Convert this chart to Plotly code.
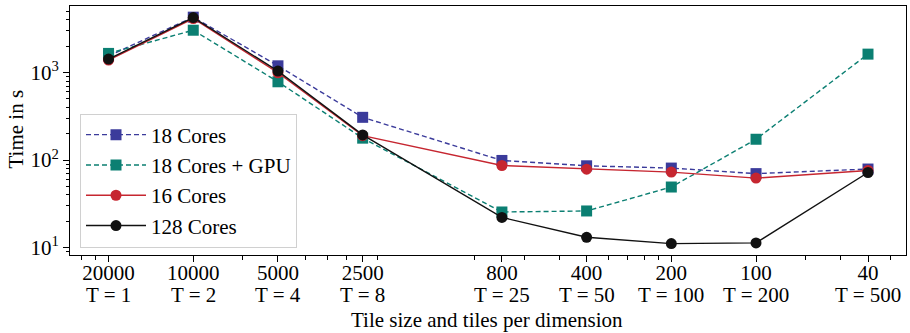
import math
import plotly.graph_objects as go

tiles_per_dim = [1, 2, 4, 8, 25, 50, 100, 200, 500]
tile_sizes = [20000, 10000, 5000, 2500, 800, 400, 200, 100, 40]

cores18 = [1550, 4300, 1195, 308, 99, 86, 81, 70, 79]
cores18_gpu = [1656, 3048, 785, 178, 25.5, 26.2, 49.2, 173, 1625]
cores16 = [1388, 4150, 995, 190, 86.7, 78.8, 72.9, 62.2, 76]
cores128 = [1425, 4256, 1040, 194, 22.1, 13.1, 11.1, 11.3, 72.1]

series = [
    ("18 Cores", cores18, "#3b3b9b", "square", "5px,3px"),
    ("18 Cores + GPU", cores18_gpu, "#0b7f72", "square", "5px,3px"),
    ("16 Cores", cores16, "#c62630", "circle", "solid"),
    ("128 Cores", cores128, "#111111", "circle", "solid"),
]

FONT = "Liberation Serif"
L, R, T, B = 70, 4, 6, 78
W, H = 910, 333
PH = H - T - B
PW = W - L - R

fig = go.Figure()
for i, (name, vals, col, sym, dash) in enumerate(series):
    fig.add_trace(go.Scatter(
        x=tiles_per_dim, y=vals, name=name, mode="lines+markers",
        legendgroup=f"g{i}",
        line=dict(color=col, width=1.4, dash=dash),
        marker=dict(symbol=sym, size=11, color=col, line=dict(width=0)),
    ))

x_minor = [0.8, 0.9, 3, 5, 6, 7, 9, 20, 30, 40, 60, 70, 80, 90, 300, 400, 600]
y_minor = [m * 10 ** e for e in range(0, 4) for m in range(2, 10)]

annotations = []
for t in tiles_per_dim:
    annotations.append(dict(
        x=math.log10(t), y=-39.5 / PH, xref="x", yref="paper", text=f"T = {t}",
        showarrow=False, xanchor="center", yanchor="middle",
        font=dict(family=FONT, size=21, color="black"),
    ))
annotations.append(dict(
    x=(487 - L) / PW, y=-64.5 / PH, xref="paper", yref="paper",
    text="Tile size and tiles per dimension", showarrow=False,
    xanchor="center", yanchor="middle",
    font=dict(family=FONT, size=21, color="black"),
))
annotations.append(dict(
    x=-(L - 15) / PW, y=(255.5 - 130) / PH, xref="paper", yref="paper",
    text="Time in s", textangle=-90, showarrow=False,
    xanchor="center", yanchor="middle",
    font=dict(family=FONT, size=21, color="black"),
))

fig.update_layout(
    width=W, height=H,
    margin=dict(l=L, r=R, t=T, b=B, autoexpand=False),
    paper_bgcolor="white", plot_bgcolor="white",
    font=dict(family=FONT, size=21, color="black"),
    showlegend=True,
    annotations=annotations,
    legend=dict(
        x=(80 - L) / PW, y=(255.5 - 114) / PH, xanchor="left", yanchor="top",
        bgcolor="rgba(255,255,255,0.85)", bordercolor="#d0d0d0", borderwidth=1,
        font=dict(family=FONT, size=21),
        itemwidth=60, tracegroupgap=0,
    ),
    xaxis=dict(
        type="log", range=[-0.137, 2.834], automargin=False,
        tickmode="array", tickvals=tiles_per_dim,
        ticktext=[str(s) for s in tile_sizes],
        ticks="outside", ticklen=6, tickwidth=1, tickcolor="black",
        ticklabelstandoff=-7,
        showline=True, linecolor="black", linewidth=1, mirror=True,
        showgrid=False, zeroline=False,
        tickfont=dict(family=FONT, size=21),
        minor=dict(tickvals=x_minor, ticks="outside", ticklen=3.5,
                   tickcolor="black", tickwidth=0.8, showgrid=False),
    ),
    yaxis=dict(
        type="log", range=[0.915, 3.761], automargin=False,
        tickmode="array", tickvals=[10, 100, 1000],
        ticktext=["10<sup>1</sup>", "10<sup>2</sup>", "10<sup>3</sup>"],
        ticks="outside", ticklen=6, tickwidth=1, tickcolor="black",
        showline=True, linecolor="black", linewidth=1, mirror=True,
        showgrid=False, zeroline=False,
        tickfont=dict(family=FONT, size=21),
        minor=dict(tickvals=y_minor, ticks="outside", ticklen=3.5,
                   tickcolor="black", tickwidth=0.8, showgrid=False),
    ),
)

fig.write_html(
    "out.html",
    config={"displayModeBar": False},
    post_script="document.body.style.margin='0';document.body.style.padding='0';",
)
